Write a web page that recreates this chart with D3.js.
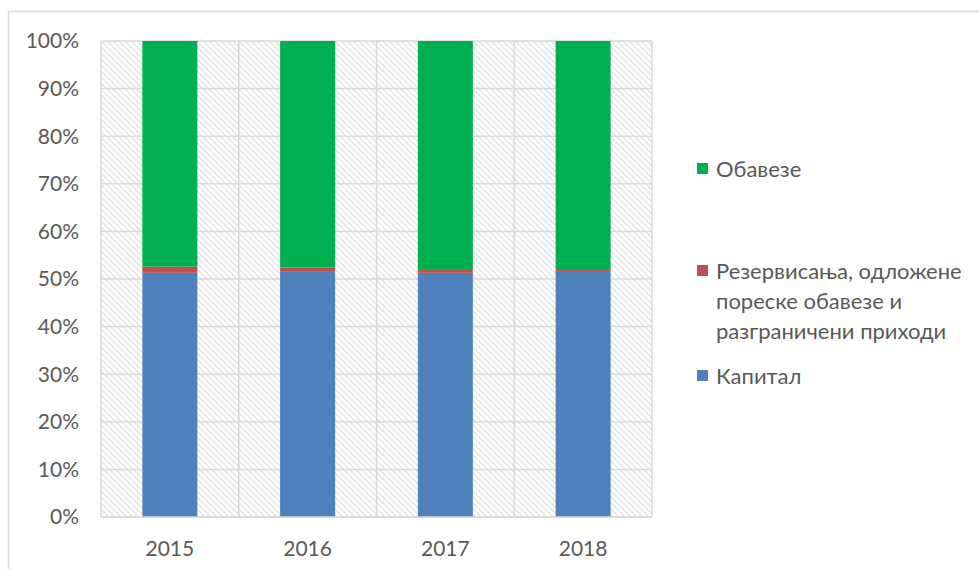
<!DOCTYPE html>
<html>
<head>
<meta charset="utf-8">
<script src="https://cdn.jsdelivr.net/npm/d3@7"></script>
<style>
  body { margin: 0; background: #fff; }
  svg text { font-family: Lato, "Noto Sans", sans-serif; fill: #595959; }
</style>
</head>
<body>
<div id="chart"></div>
<script>
const years = ["2015", "2016", "2017", "2018"];
const capital = [51.3, 51.5, 51.3, 51.7];
const reserves = [1.3, 0.9, 0.6, 0.4];
const liabilities = [47.4, 47.6, 48.1, 47.9];
const yTicks = [0, 10, 20, 30, 40, 50, 60, 70, 80, 90, 100];

const seriesNames = ["Капитал", "Резервисања, одложене пореске обавезе и разграничени приходи", "Обавезе"];
const seriesColors = ["#4f81bd", "#c0504d", "#00b050"];
const legendLines = [
    ["Обавезе"],
    ["Резервисања, одложене", "пореске обавезе и", "разграничени приходи"],
    ["Капитал"]
];
const legendColors = ["#00b050", "#c0504d", "#4f81bd"];

const width = 979, height = 569;
const plot = { left: 101, right: 652, top: 41, bottom: 517 };

const svg = d3.select("#chart").append("svg")
    .attr("width", width)
    .attr("height", height);

// hatch background pattern
const defs = svg.append("defs");
const pat = defs.append("pattern")
    .attr("id", "hatch")
    .attr("patternUnits", "userSpaceOnUse")
    .attr("width", 6)
    .attr("height", 6);
pat.append("rect").attr("width", 6).attr("height", 6).attr("fill", "#fff");
pat.append("path")
    .attr("d", "M0,0 L6,6 M-3,3 L3,9 M3,-3 L9,3")
    .attr("stroke", "#e2e2e2")
    .attr("stroke-width", 1.3);

// outer frame (only top and left visible)
svg.append("path")
    .attr("d", `M8.5,${height} L8.5,11.5 L${width},11.5`)
    .attr("fill", "none")
    .attr("stroke", "#d9d9d9")
    .attr("stroke-width", 1.5);

const x = d3.scaleBand()
    .domain(years)
    .range([plot.left, plot.right])
    .paddingInner(0)
    .paddingOuter(0);

const y = d3.scaleLinear()
    .domain([0, 100])
    .range([plot.bottom, plot.top]);

svg.append("rect")
    .attr("x", plot.left)
    .attr("y", plot.top)
    .attr("width", plot.right - plot.left)
    .attr("height", plot.bottom - plot.top)
    .attr("fill", "url(#hatch)");

// grid lines
svg.append("g")
    .selectAll("line")
    .data(yTicks)
    .enter()
    .append("line")
    .attr("x1", plot.left)
    .attr("x2", plot.right)
    .attr("y1", d => y(d))
    .attr("y2", d => y(d))
    .attr("stroke", "#d9d9d9")
    .attr("stroke-width", 1.5);

const vLines = years.map(d => x(d)).concat([plot.right]);
svg.append("g")
    .selectAll("line")
    .data(vLines)
    .enter()
    .append("line")
    .attr("x1", d => d)
    .attr("x2", d => d)
    .attr("y1", plot.top)
    .attr("y2", plot.bottom)
    .attr("stroke", "#d9d9d9")
    .attr("stroke-width", 1.5);

// stacked bars
const table = years.map((yr, i) => ({
    year: yr,
    s0: capital[i],
    s1: reserves[i],
    s2: liabilities[i]
}));
const stack = d3.stack().keys(["s0", "s1", "s2"])(table);
const barW = 55;

svg.append("g")
    .selectAll("g")
    .data(stack)
    .enter()
    .append("g")
    .attr("fill", (d, i) => seriesColors[i])
    .selectAll("rect")
    .data(d => d)
    .enter()
    .append("rect")
    .attr("x", d => x(d.data.year) + x.bandwidth() / 2 - barW / 2)
    .attr("y", d => y(d[1]))
    .attr("width", barW)
    .attr("height", d => y(d[0]) - y(d[1]));

// axis line at bottom
svg.append("line")
    .attr("x1", plot.left)
    .attr("x2", plot.right)
    .attr("y1", plot.bottom)
    .attr("y2", plot.bottom)
    .attr("stroke", "#d9d9d9")
    .attr("stroke-width", 1.5);

// y labels
svg.append("g")
    .selectAll("text")
    .data(yTicks)
    .enter()
    .append("text")
    .attr("x", 79)
    .attr("y", d => y(d))
    .attr("dy", "0.35em")
    .attr("text-anchor", "end")
    .style("font-size", "21px")
    .text(d => d + "%");

// x labels
svg.append("g")
    .selectAll("text")
    .data(years)
    .enter()
    .append("text")
    .attr("x", d => x(d) + x.bandwidth() / 2)
    .attr("y", 549)
    .attr("dy", "0.35em")
    .attr("text-anchor", "middle")
    .style("font-size", "21px")
    .text(d => d);

// legend
const legendY = [169, 271, 376];
const legend = svg.append("g");
legendLines.forEach((lines, i) => {
    legend.append("rect")
        .attr("x", 697)
        .attr("y", legendY[i] - 6)
        .attr("width", 11)
        .attr("height", 11)
        .attr("fill", legendColors[i]);
    lines.forEach((t, j) => {
        legend.append("text")
            .attr("x", 716)
            .attr("y", legendY[i] + j * 30)
            .attr("dy", "0.35em")
            .style("font-size", "22px")
            .text(t);
    });
});
</script>
</body>
</html>
